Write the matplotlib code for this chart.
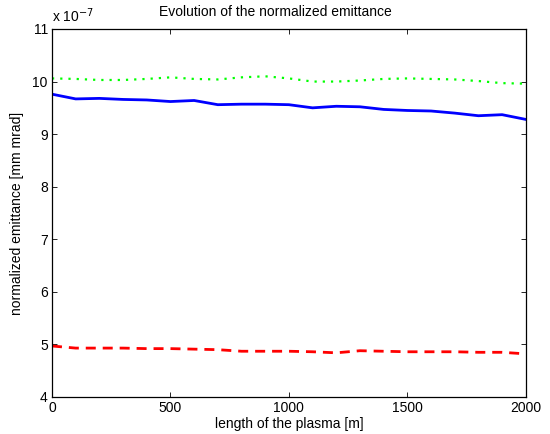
import numpy as np
import matplotlib
matplotlib.use("Agg")
import matplotlib.pyplot as plt

# data (y in units of 1e-7)
length = np.arange(0, 2001, 100)
emit_blue = [9.76, 9.67, 9.68, 9.66, 9.65, 9.62, 9.64, 9.56, 9.57, 9.57, 9.56,
             9.50, 9.53, 9.52, 9.47, 9.45, 9.44, 9.40, 9.35, 9.37, 9.28]
emit_green = [10.06, 10.05, 10.03, 10.03, 10.05, 10.08, 10.05, 10.04, 10.08, 10.10, 10.06,
              10.00, 10.00, 10.02, 10.05, 10.06, 10.05, 10.04, 10.01, 9.97, 9.96]
emit_red = [4.97, 4.93, 4.93, 4.93, 4.92, 4.92, 4.91, 4.90, 4.87, 4.87, 4.87,
            4.86, 4.84, 4.88, 4.87, 4.86, 4.86, 4.86, 4.85, 4.85, 4.82]

plt.rcParams['font.family'] = ['Liberation Sans', 'DejaVu Sans']
plt.rcParams['font.size'] = 10

fig = plt.figure(figsize=(5.5, 4.34), dpi=100)
ax = fig.add_axes([0.0945, 0.0853, 0.8615, 0.8479])

ax.plot(length, emit_green, color=(0, 1, 0), linestyle=':', linewidth=1.6, dashes=(1.0, 2.7))
ax.plot(length, emit_blue, color=(0, 0, 1), linestyle='-', linewidth=2)
ax.plot(length, emit_red, color=(1, 0, 0), linestyle='--', linewidth=2, dashes=(3.6, 2.5))

ax.set_xlim(0, 2000)
ax.set_ylim(4, 11)
ax.set_xticks([0, 500, 1000, 1500, 2000])
ax.set_yticks(range(4, 12))
ax.tick_params(direction='in', top=True, right=True, length=3.6, width=0.6,
               labelsize=10, pad=3)
for s in ax.spines.values():
    s.set_linewidth(0.9)

ax.set_xlabel("length of the plasma [m]", fontsize=10, labelpad=1)
ax.set_ylabel("normalized emittance [mm mrad]", fontsize=10, labelpad=6)
fig.text(0.5, 0.962, "Evolution of the normalized emittance", fontsize=10,
         ha='center', va='baseline')
fig.text(0.0945, 0.949, "x 10$^{-7}$", fontsize=10, ha='left', va='baseline')

plt.savefig("out.png", dpi=100)
